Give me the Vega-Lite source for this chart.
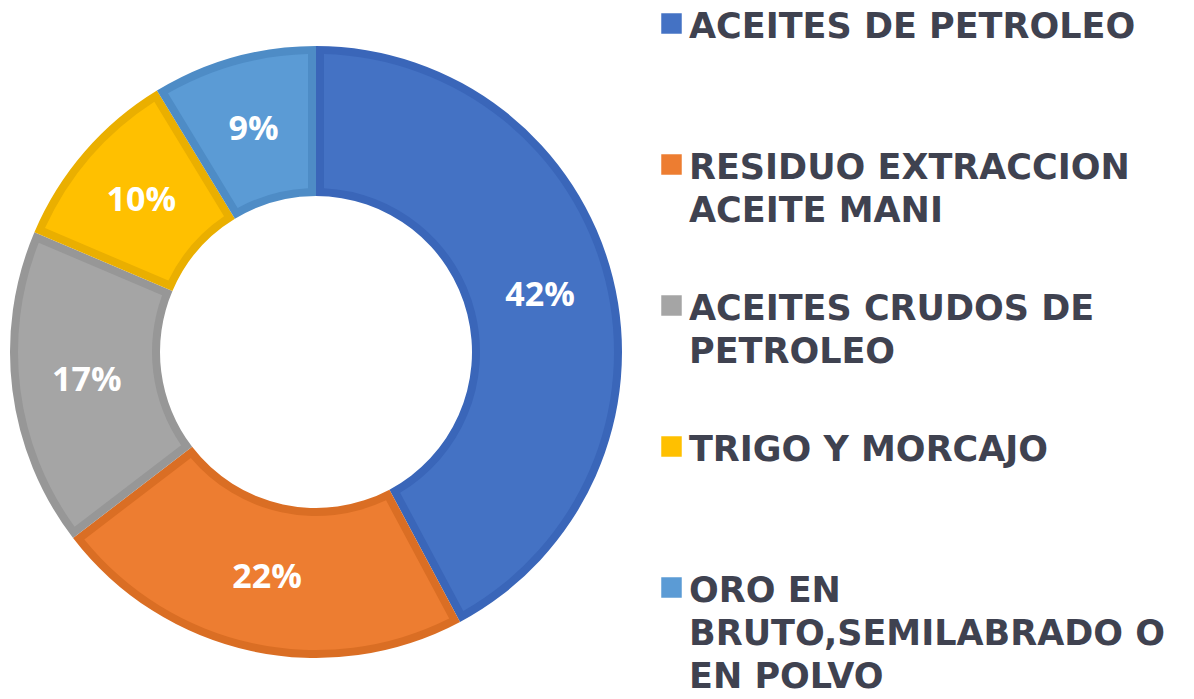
{
  "$schema": "https://vega.github.io/schema/vega-lite/v6.json",
  "width": 632,
  "height": 698,
  "padding": {"top": 3, "left": 0, "right": 0, "bottom": 0},
  "background": "white",
  "view": {"stroke": null},
  "data": {
    "values": [
      {"ord": 1, "producto": "ACEITES DE PETROLEO", "share": 0.422},
      {"ord": 2, "producto": "RESIDUO EXTRACCION ACEITE MANI", "share": 0.224},
      {"ord": 3, "producto": "ACEITES CRUDOS DE PETROLEO", "share": 0.168},
      {"ord": 4, "producto": "TRIGO Y MORCAJO", "share": 0.099},
      {"ord": 5, "producto": "ORO EN BRUTO,SEMILABRADO O EN POLVO", "share": 0.087}
    ]
  },
  "encoding": {
    "theta": {"field": "share", "type": "quantitative", "stack": true},
    "order": {"field": "ord", "type": "quantitative", "sort": "ascending"}
  },
  "layer": [
    {
      "mark": {"type": "arc", "outerRadius": 306, "innerRadius": 156},
      "encoding": {
        "fill": {
          "field": "ord",
          "type": "nominal",
          "legend": null,
          "scale": {
            "domain": [1, 2, 3, 4, 5],
            "range": ["#3A66B9", "#DA6E24", "#979797", "#EAAF00", "#4E8CC6"]
          }
        }
      }
    },
    {
      "mark": {"type": "arc", "outerRadius": 298, "innerRadius": 164, "padAngle": 0.047},
      "encoding": {
        "color": {
          "field": "producto",
          "type": "nominal",
          "scale": {
            "domain": ["ACEITES DE PETROLEO", "RESIDUO EXTRACCION ACEITE MANI", "ACEITES CRUDOS DE PETROLEO", "TRIGO Y MORCAJO", "ORO EN BRUTO,SEMILABRADO O EN POLVO"],
            "range": ["#4472C4", "#ED7D31", "#A5A5A5", "#FFC000", "#5B9BD5"]
          },
          "legend": {
            "orient": "none",
            "legendX": 654,
            "legendY": 3,
            "title": null,
            "padding": 0,
            "symbolType": "square",
            "symbolSize": 420,
            "symbolStrokeWidth": 0,
            "labelFont": "DejaVu Sans",
            "labelFontWeight": "bold",
            "labelFontSize": 35,
            "labelColor": "#3F4250",
            "labelLimit": 700,
            "labelOffset": 0,
            "labelBaseline": "top",
            "gridAlign": "all",
            "rowPadding": 16,
            "labelExpr": "datum.label == 'RESIDUO EXTRACCION ACEITE MANI' ? ['RESIDUO EXTRACCION', 'ACEITE MANI'] : datum.label == 'ACEITES CRUDOS DE PETROLEO' ? ['ACEITES CRUDOS DE', 'PETROLEO'] : datum.label == 'ORO EN BRUTO,SEMILABRADO O EN POLVO' ? ['ORO EN', 'BRUTO,SEMILABRADO O', 'EN POLVO'] : datum.label",
            "encode": {
              "labels": {"update": {"dy": {"value": -14}, "lineHeight": {"value": 43}}}
            }
          }
        }
      }
    },
    {
      "mark": {"type": "text", "radius": 231, "font": "Open Sans", "fontWeight": "bold", "fontSize": 34, "fill": "white", "align": "center", "baseline": "middle"},
      "encoding": {
        "text": {"field": "share", "type": "quantitative", "format": ".0%"}
      }
    }
  ]
}
